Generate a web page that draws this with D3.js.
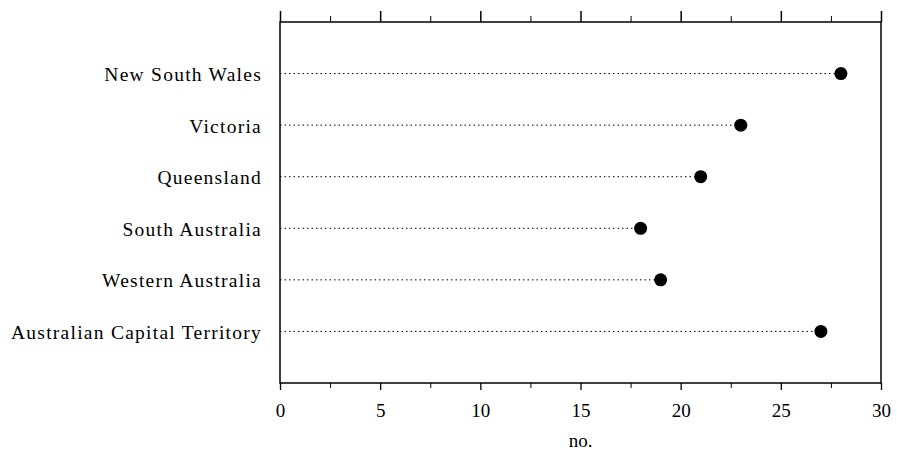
<!DOCTYPE html>
<html>
<head>
<meta charset="utf-8">
<script src="https://cdn.jsdelivr.net/npm/d3@7"></script>
<style>
  body { margin: 0; background: #fff; }
  svg { font-family: "Liberation Serif", "Times New Roman", serif; }
</style>
</head>
<body>
<svg id="chart" width="897" height="450"></svg>
<script>
// states, top to bottom
var states = ["New South Wales", "Victoria", "Queensland", "South Australia",
              "Western Australia", "Australian Capital Territory"];
var counts = [28, 23, 21, 18, 19, 27];
var xTicks = [0, 5, 10, 15, 20, 25, 30];
var xMinorTicks = [2.5, 7.5, 12.5, 17.5, 22.5, 27.5];

var margin = { top: 22, right: 16, bottom: 67, left: 280 };
var width = 897 - margin.left - margin.right;
var height = 450 - margin.top - margin.bottom;

var svg = d3.select("#chart");
var g = svg.append("g")
    .attr("transform", "translate(" + margin.left + "," + margin.top + ")");

var xScale = d3.scaleLinear().domain([0, 30]).range([0, width]);
var yScale = d3.scalePoint().domain(states).range([0, height]).padding(1);

var data = states.map(function (s, i) { return { state: s, value: counts[i] }; });

// dotted leader lines
g.selectAll(".leader")
    .data(data)
    .enter().append("line")
    .attr("class", "leader")
    .attr("x1", 0)
    .attr("x2", function (d) { return xScale(d.value); })
    .attr("y1", function (d) { return yScale(d.state); })
    .attr("y2", function (d) { return yScale(d.state); })
    .attr("stroke", "#000")
    .attr("stroke-width", 1)
    .attr("stroke-dasharray", "1.5,3");

// dots
g.selectAll(".dot")
    .data(data)
    .enter().append("circle")
    .attr("class", "dot")
    .attr("cx", function (d) { return xScale(d.value); })
    .attr("cy", function (d) { return yScale(d.state); })
    .attr("r", 6.5)
    .attr("fill", "#000");

// frame
g.append("rect")
    .attr("width", width)
    .attr("height", height)
    .attr("fill", "none")
    .attr("stroke", "#000")
    .attr("stroke-width", 1.5);

// bottom axis
var xAxis = g.append("g")
    .attr("transform", "translate(0," + height + ")")
    .call(d3.axisBottom(xScale).tickValues(xTicks).tickSize(7).tickFormat(d3.format("d")));
xAxis.select(".domain").remove();
xAxis.selectAll("line").attr("stroke-width", 1.3);
xAxis.selectAll("text")
    .attr("font-family", "Liberation Serif, serif")
    .attr("font-size", 19)
    .attr("fill", "#000")
    .attr("dy", "1.25em");

var xAxisMinor = g.append("g")
    .attr("transform", "translate(0," + height + ")")
    .call(d3.axisBottom(xScale).tickValues(xMinorTicks).tickSize(5).tickFormat(""));
xAxisMinor.select(".domain").remove();

// top axis
var topAxis = g.append("g")
    .call(d3.axisTop(xScale).tickValues(xTicks).tickSize(11).tickFormat(""));
topAxis.select(".domain").remove();
topAxis.selectAll("line").attr("stroke-width", 1.5);
var topMinor = g.append("g")
    .call(d3.axisTop(xScale).tickValues(xMinorTicks).tickSize(6).tickFormat(""));
topMinor.select(".domain").remove();

// y labels
var yAxis = g.append("g")
    .call(d3.axisLeft(yScale).tickSize(0).tickPadding(18));
yAxis.select(".domain").remove();
yAxis.selectAll("text")
    .attr("font-family", "Liberation Serif, serif")
    .attr("font-size", 19.5)
    .attr("letter-spacing", 1.25)
    .attr("dy", "0.36em")
    .attr("fill", "#000");

// axis title
g.append("text")
    .attr("x", xScale(15))
    .attr("y", height + 64)
    .attr("text-anchor", "middle")
    .attr("font-size", 19)
    .text("no.");
</script>
</body>
</html>
